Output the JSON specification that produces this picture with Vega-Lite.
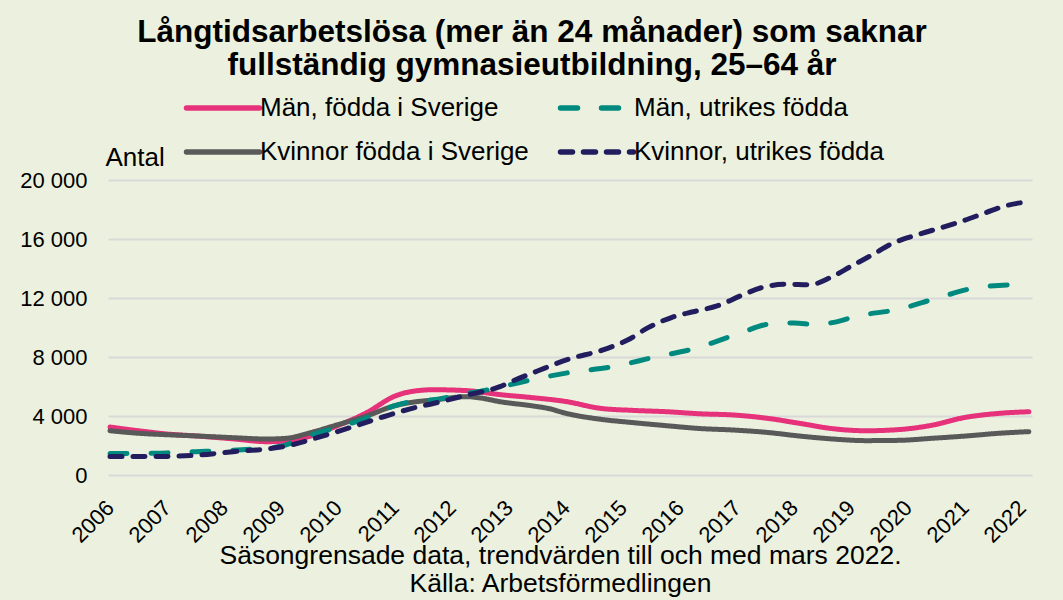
{
  "$schema": "https://vega.github.io/schema/vega-lite/v6.json",
  "width": 924,
  "height": 295,
  "autosize": {"type": "none"},
  "padding": {"left": 108, "top": 180, "right": 31, "bottom": 125},
  "background": "#EBF1DE",
  "title": {
    "text": ["Långtidsarbetslösa (mer än 24 månader) som saknar", "fullständig gymnasieutbildning, 25–64 år"],
    "anchor": "middle",
    "frame": "group",
    "font": "Liberation Sans",
    "fontSize": 31.5,
    "fontWeight": "bold",
    "color": "#000000",
    "lineHeight": 33,
    "dx": -38,
    "offset": 6
  },
  "data": {
    "values": [
      {"serie": "Män, födda i Sverige", "ar": 2006.0, "antal": 3250},
      {"serie": "Män, födda i Sverige", "ar": 2006.5, "antal": 3000},
      {"serie": "Män, födda i Sverige", "ar": 2007.0, "antal": 2780},
      {"serie": "Män, födda i Sverige", "ar": 2007.5, "antal": 2650},
      {"serie": "Män, födda i Sverige", "ar": 2008.16, "antal": 2450},
      {"serie": "Män, födda i Sverige", "ar": 2008.75, "antal": 2260},
      {"serie": "Män, födda i Sverige", "ar": 2009.1, "antal": 2300},
      {"serie": "Män, födda i Sverige", "ar": 2009.5, "antal": 2620},
      {"serie": "Män, födda i Sverige", "ar": 2009.9, "antal": 3200},
      {"serie": "Män, födda i Sverige", "ar": 2010.5, "antal": 4220},
      {"serie": "Män, födda i Sverige", "ar": 2011.0, "antal": 5350},
      {"serie": "Män, födda i Sverige", "ar": 2011.38, "antal": 5710},
      {"serie": "Män, födda i Sverige", "ar": 2011.67, "antal": 5780},
      {"serie": "Män, födda i Sverige", "ar": 2012.26, "antal": 5720},
      {"serie": "Män, födda i Sverige", "ar": 2012.84, "antal": 5450},
      {"serie": "Män, födda i Sverige", "ar": 2013.42, "antal": 5240},
      {"serie": "Män, födda i Sverige", "ar": 2014.0, "antal": 4980},
      {"serie": "Män, födda i Sverige", "ar": 2014.6, "antal": 4520},
      {"serie": "Män, födda i Sverige", "ar": 2015.18, "antal": 4380},
      {"serie": "Män, födda i Sverige", "ar": 2015.77, "antal": 4290},
      {"serie": "Män, födda i Sverige", "ar": 2016.35, "antal": 4150},
      {"serie": "Män, födda i Sverige", "ar": 2016.93, "antal": 4070},
      {"serie": "Män, födda i Sverige", "ar": 2017.52, "antal": 3850},
      {"serie": "Män, födda i Sverige", "ar": 2018.1, "antal": 3500},
      {"serie": "Män, födda i Sverige", "ar": 2018.68, "antal": 3140},
      {"serie": "Män, födda i Sverige", "ar": 2019.26, "antal": 3000},
      {"serie": "Män, födda i Sverige", "ar": 2019.84, "antal": 3080},
      {"serie": "Män, födda i Sverige", "ar": 2020.43, "antal": 3380},
      {"serie": "Män, födda i Sverige", "ar": 2021.0, "antal": 3900},
      {"serie": "Män, födda i Sverige", "ar": 2021.6, "antal": 4180},
      {"serie": "Män, födda i Sverige", "ar": 2022.12, "antal": 4290},

      {"serie": "Kvinnor födda i Sverige", "ar": 2006.0, "antal": 3000},
      {"serie": "Kvinnor födda i Sverige", "ar": 2006.5, "antal": 2830},
      {"serie": "Kvinnor födda i Sverige", "ar": 2007.0, "antal": 2730},
      {"serie": "Kvinnor födda i Sverige", "ar": 2007.5, "antal": 2650},
      {"serie": "Kvinnor födda i Sverige", "ar": 2008.16, "antal": 2530},
      {"serie": "Kvinnor födda i Sverige", "ar": 2008.75, "antal": 2440},
      {"serie": "Kvinnor födda i Sverige", "ar": 2009.1, "antal": 2490},
      {"serie": "Kvinnor födda i Sverige", "ar": 2009.5, "antal": 2850},
      {"serie": "Kvinnor födda i Sverige", "ar": 2009.9, "antal": 3300},
      {"serie": "Kvinnor födda i Sverige", "ar": 2010.5, "antal": 4000},
      {"serie": "Kvinnor födda i Sverige", "ar": 2011.0, "antal": 4700},
      {"serie": "Kvinnor födda i Sverige", "ar": 2011.38, "antal": 4970},
      {"serie": "Kvinnor födda i Sverige", "ar": 2011.67, "antal": 5080},
      {"serie": "Kvinnor födda i Sverige", "ar": 2012.26, "antal": 5310},
      {"serie": "Kvinnor födda i Sverige", "ar": 2012.5, "antal": 5220},
      {"serie": "Kvinnor födda i Sverige", "ar": 2012.84, "antal": 4970},
      {"serie": "Kvinnor födda i Sverige", "ar": 2013.42, "antal": 4680},
      {"serie": "Kvinnor födda i Sverige", "ar": 2013.7, "antal": 4500},
      {"serie": "Kvinnor födda i Sverige", "ar": 2014.0, "antal": 4180},
      {"serie": "Kvinnor födda i Sverige", "ar": 2014.6, "antal": 3780},
      {"serie": "Kvinnor födda i Sverige", "ar": 2015.18, "antal": 3550},
      {"serie": "Kvinnor födda i Sverige", "ar": 2015.77, "antal": 3340},
      {"serie": "Kvinnor födda i Sverige", "ar": 2016.35, "antal": 3150},
      {"serie": "Kvinnor födda i Sverige", "ar": 2016.93, "antal": 3050},
      {"serie": "Kvinnor födda i Sverige", "ar": 2017.52, "antal": 2890},
      {"serie": "Kvinnor födda i Sverige", "ar": 2018.1, "antal": 2640},
      {"serie": "Kvinnor födda i Sverige", "ar": 2018.68, "antal": 2440},
      {"serie": "Kvinnor födda i Sverige", "ar": 2019.26, "antal": 2330},
      {"serie": "Kvinnor födda i Sverige", "ar": 2019.84, "antal": 2350},
      {"serie": "Kvinnor födda i Sverige", "ar": 2020.43, "antal": 2490},
      {"serie": "Kvinnor födda i Sverige", "ar": 2021.0, "antal": 2640},
      {"serie": "Kvinnor födda i Sverige", "ar": 2021.6, "antal": 2830},
      {"serie": "Kvinnor födda i Sverige", "ar": 2022.12, "antal": 2940},

      {"serie": "Män, utrikes födda", "ar": 2006.0, "antal": 1450},
      {"serie": "Män, utrikes födda", "ar": 2006.5, "antal": 1470},
      {"serie": "Män, utrikes födda", "ar": 2007.0, "antal": 1500},
      {"serie": "Män, utrikes födda", "ar": 2007.5, "antal": 1580},
      {"serie": "Män, utrikes födda", "ar": 2008.0, "antal": 1650},
      {"serie": "Män, utrikes födda", "ar": 2008.5, "antal": 1760},
      {"serie": "Män, utrikes födda", "ar": 2009.0, "antal": 1950},
      {"serie": "Män, utrikes födda", "ar": 2009.45, "antal": 2600},
      {"serie": "Män, utrikes födda", "ar": 2010.0, "antal": 3250},
      {"serie": "Män, utrikes födda", "ar": 2010.39, "antal": 3700},
      {"serie": "Män, utrikes födda", "ar": 2011.0, "antal": 4700},
      {"serie": "Män, utrikes födda", "ar": 2011.32, "antal": 5000},
      {"serie": "Män, utrikes födda", "ar": 2011.67, "antal": 5100},
      {"serie": "Män, utrikes födda", "ar": 2012.26, "antal": 5540},
      {"serie": "Män, utrikes födda", "ar": 2012.55, "antal": 5720},
      {"serie": "Män, utrikes födda", "ar": 2013.0, "antal": 6100},
      {"serie": "Män, utrikes födda", "ar": 2013.39, "antal": 6450},
      {"serie": "Män, utrikes födda", "ar": 2014.08, "antal": 6960},
      {"serie": "Män, utrikes födda", "ar": 2014.82, "antal": 7340},
      {"serie": "Män, utrikes födda", "ar": 2015.54, "antal": 7980},
      {"serie": "Män, utrikes födda", "ar": 2016.27, "antal": 8590},
      {"serie": "Män, utrikes födda", "ar": 2016.96, "antal": 9490},
      {"serie": "Män, utrikes födda", "ar": 2017.66, "antal": 10280},
      {"serie": "Män, utrikes födda", "ar": 2018.0, "antal": 10300},
      {"serie": "Män, utrikes födda", "ar": 2018.38, "antal": 10210},
      {"serie": "Män, utrikes födda", "ar": 2018.7, "antal": 10350},
      {"serie": "Män, utrikes födda", "ar": 2019.11, "antal": 10780},
      {"serie": "Män, utrikes födda", "ar": 2019.83, "antal": 11230},
      {"serie": "Män, utrikes födda", "ar": 2020.53, "antal": 12020},
      {"serie": "Män, utrikes födda", "ar": 2021.25, "antal": 12730},
      {"serie": "Män, utrikes födda", "ar": 2021.96, "antal": 12900},
      {"serie": "Män, utrikes födda", "ar": 2022.12, "antal": 12880},

      {"serie": "Kvinnor, utrikes födda", "ar": 2006.0, "antal": 1250},
      {"serie": "Kvinnor, utrikes födda", "ar": 2006.5, "antal": 1250},
      {"serie": "Kvinnor, utrikes födda", "ar": 2007.0, "antal": 1260},
      {"serie": "Kvinnor, utrikes födda", "ar": 2007.58, "antal": 1360},
      {"serie": "Kvinnor, utrikes födda", "ar": 2008.16, "antal": 1580},
      {"serie": "Kvinnor, utrikes födda", "ar": 2008.75, "antal": 1770},
      {"serie": "Kvinnor, utrikes födda", "ar": 2009.1, "antal": 1970},
      {"serie": "Kvinnor, utrikes födda", "ar": 2009.6, "antal": 2490},
      {"serie": "Kvinnor, utrikes födda", "ar": 2010.2, "antal": 3200},
      {"serie": "Kvinnor, utrikes födda", "ar": 2010.8, "antal": 3950},
      {"serie": "Kvinnor, utrikes födda", "ar": 2011.38, "antal": 4600},
      {"serie": "Kvinnor, utrikes födda", "ar": 2011.67, "antal": 4850},
      {"serie": "Kvinnor, utrikes födda", "ar": 2012.26, "antal": 5420},
      {"serie": "Kvinnor, utrikes födda", "ar": 2012.84, "antal": 5990},
      {"serie": "Kvinnor, utrikes födda", "ar": 2013.08, "antal": 6400},
      {"serie": "Kvinnor, utrikes födda", "ar": 2013.5, "antal": 7050},
      {"serie": "Kvinnor, utrikes födda", "ar": 2014.05, "antal": 7860},
      {"serie": "Kvinnor, utrikes födda", "ar": 2014.65, "antal": 8480},
      {"serie": "Kvinnor, utrikes födda", "ar": 2015.08, "antal": 9150},
      {"serie": "Kvinnor, utrikes födda", "ar": 2015.44, "antal": 9990},
      {"serie": "Kvinnor, utrikes födda", "ar": 2015.86, "antal": 10690},
      {"serie": "Kvinnor, utrikes födda", "ar": 2016.23, "antal": 11070},
      {"serie": "Kvinnor, utrikes födda", "ar": 2016.65, "antal": 11460},
      {"serie": "Kvinnor, utrikes födda", "ar": 2017.07, "antal": 12160},
      {"serie": "Kvinnor, utrikes födda", "ar": 2017.43, "antal": 12700},
      {"serie": "Kvinnor, utrikes födda", "ar": 2017.86, "antal": 12930},
      {"serie": "Kvinnor, utrikes födda", "ar": 2018.28, "antal": 12900},
      {"serie": "Kvinnor, utrikes födda", "ar": 2018.64, "antal": 13390},
      {"serie": "Kvinnor, utrikes födda", "ar": 2019.01, "antal": 14170},
      {"serie": "Kvinnor, utrikes födda", "ar": 2019.37, "antal": 14920},
      {"serie": "Kvinnor, utrikes födda", "ar": 2019.73, "antal": 15710},
      {"serie": "Kvinnor, utrikes födda", "ar": 2020.15, "antal": 16270},
      {"serie": "Kvinnor, utrikes födda", "ar": 2020.55, "antal": 16730},
      {"serie": "Kvinnor, utrikes födda", "ar": 2020.94, "antal": 17200},
      {"serie": "Kvinnor, utrikes födda", "ar": 2021.36, "antal": 17780},
      {"serie": "Kvinnor, utrikes födda", "ar": 2021.72, "antal": 18260},
      {"serie": "Kvinnor, utrikes födda", "ar": 2022.12, "antal": 18530}
    ]
  },
  "mark": {"type": "line", "strokeWidth": 5, "strokeCap": "round", "strokeJoin": "round", "interpolate": "monotone"},
  "encoding": {
    "x": {
      "field": "ar",
      "type": "quantitative",
      "scale": {"domain": [2005.965, 2022.175], "nice": false, "zero": false},
      "axis": {
        "values": [2006, 2007, 2008, 2009, 2010, 2011, 2012, 2013, 2014, 2015, 2016, 2017, 2018, 2019, 2020, 2021, 2022],
        "format": "d",
        "labelAngle": -45,
        "labelAlign": "right",
        "labelBaseline": "middle",
        "labelPadding": 29,
        "labelFontSize": 22,
        "labelFont": "Liberation Sans",
        "labelColor": "#000000",
        "ticks": false,
        "domain": false,
        "grid": false,
        "title": ["Säsongrensade data, trendvärden till och med mars 2022.", "Källa: Arbetsförmedlingen"],
        "titleFont": "Liberation Sans",
        "titleFontSize": 26.5,
        "titleFontWeight": "normal",
        "titleColor": "#000000",
        "titleLineHeight": 28,
        "titleAnchor": "start",
        "titleAlign": "center",
        "titleBaseline": "alphabetic",
        "titleX": 452,
        "titleY": 88
      }
    },
    "y": {
      "field": "antal",
      "type": "quantitative",
      "scale": {"domain": [0, 20000], "nice": false},
      "axis": {
        "values": [0, 4000, 8000, 12000, 16000, 20000],
        "labelExpr": "datum.value == 0 ? '0' : format(datum.value / 1000, 'd') + ' 000'",
        "labelFontSize": 22,
        "labelFont": "Liberation Sans",
        "labelColor": "#000000",
        "labelPadding": 21,
        "ticks": false,
        "domain": false,
        "grid": true,
        "gridColor": "#D9D9D9",
        "gridWidth": 2,
        "title": "Antal",
        "titleFont": "Liberation Sans",
        "titleFontSize": 26,
        "titleFontWeight": "normal",
        "titleColor": "#000000",
        "titleAngle": 0,
        "titleAlign": "left",
        "titleBaseline": "alphabetic",
        "titleAnchor": "start",
        "titleX": -3,
        "titleY": -15
      }
    },
    "color": {
      "field": "serie",
      "type": "nominal",
      "scale": {
        "domain": ["Män, födda i Sverige", "Kvinnor födda i Sverige", "Män, utrikes födda", "Kvinnor, utrikes födda"],
        "range": ["#E6327A", "#595959", "#00897F", "#221D5E"]
      },
      "legend": {
        "title": null,
        "orient": "none",
        "legendX": 94,
        "legendY": -93,
        "columns": 2,
        "symbolType": "M-2,0H2",
        "symbolSize": 1332,
        "symbolStrokeWidth": 5.5,
        "labelFont": "Liberation Sans",
        "labelFontSize": 26,
        "labelColor": "#000000",
        "labelOffset": 16,
        "labelLimit": 400,
        "columnPadding": 20,
        "rowPadding": 10,
        "encode": {"symbols": {"update": {"strokeCap": {"value": "round"}}}}
      }
    },
    "strokeDash": {
      "field": "serie",
      "type": "nominal",
      "scale": {
        "domain": ["Män, födda i Sverige", "Kvinnor födda i Sverige", "Män, utrikes födda", "Kvinnor, utrikes födda"],
        "range": [[1, 0], [1, 0], [17, 24], [12, 11]]
      },
      "legend": null
    }
  },
  "config": {
    "view": {"stroke": null}
  }
}
